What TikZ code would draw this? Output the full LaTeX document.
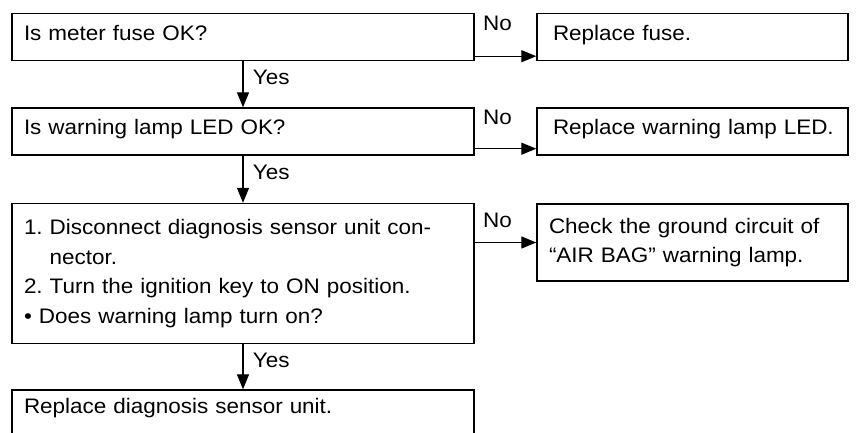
\documentclass[tikz,border=0pt]{standalone}
\usepackage{fontspec}
\setmainfont{Liberation Sans}[FakeStretch=1.07]
\usepackage{tikz}
\usetikzlibrary{arrows.meta, positioning}
\newcommand{\chartfont}{\fontsize{21pt}{29.5pt}\selectfont}
\tikzset{
    qbox/.style={
        draw=black,
        line width=1.4pt,
        minimum width=462pt,
        text width=438pt,
        inner xsep=12pt,
        font=\chartfont,
        align=left
    },
    abox/.style={
        draw=black,
        line width=1.4pt,
        minimum width=311pt,
        text width=279pt,
        inner xsep=16pt,
        font=\chartfont,
        align=left
    },
    oneline/.style={
        minimum height=47pt,
        text depth=9pt
    },
    arrow/.style={
        -{Triangle[length=15pt, width=12pt]},
        line width=1.2pt,
        black
    },
    yeslbl/.style={
        font=\chartfont,
        pos=0.35,
        right=6pt
    },
    nolbl/.style={
        font=\chartfont,
        pos=0.37
    }
}

\begin{document}
\begin{tikzpicture}[x=1pt, y=-1pt]
        \clip (0,0) rectangle (857,432);

        % Checks on the left
        \node[qbox, oneline] (fuse) at (243,37) {Is meter fuse OK?};
        \node[qbox, oneline] (led) at (243,131.5) {Is warning lamp LED OK?};
        \node[qbox, minimum height=140pt] (disc) at (243,273.5) {
            1.\ Disconnect diagnosis sensor unit con-\\
            \phantom{1.\ }nector.\\
            2.\ Turn the ignition key to ON position.\\
            \textbullet\ Does warning lamp turn on?
        };
        \node[qbox, oneline, text depth=16pt] (sensor) at (243,413.5) {Replace diagnosis sensor unit.};

        % Remedies on the right
        \node[abox, oneline] (refuse) at (692.5,37) {Replace fuse.};
        \node[abox, oneline] (reled) at (692.5,131.5) {\mbox{Replace warning lamp LED.}};
        \node[abox, minimum height=77pt, inner xsep=12pt, text width=287pt] (ground) at (692.5,242.5) {
            Check the ground circuit of\\
            ``AIR BAG'' warning lamp.
        };

        % Yes arrows
        \draw[arrow] (fuse.south) -- node[yeslbl] {Yes} (led.north);
        \draw[arrow] (led.south) -- node[yeslbl] {Yes} (disc.north);
        \draw[arrow] (disc.south) -- node[yeslbl] {Yes} (sensor.north);

        % No arrows
        \draw[arrow] ([yshift=5pt]fuse.south east) -- node[nolbl, above=22pt] {No} ([yshift=5pt]refuse.south west);
        \draw[arrow] ([yshift=7pt]led.south east) -- node[nolbl, above=20pt] {No} ([yshift=7pt]reled.south west);
        \draw[arrow] (ground.west -| disc.east) -- node[nolbl, above=10.5pt] {No} (ground.west);
    \end{tikzpicture}
\end{document}
